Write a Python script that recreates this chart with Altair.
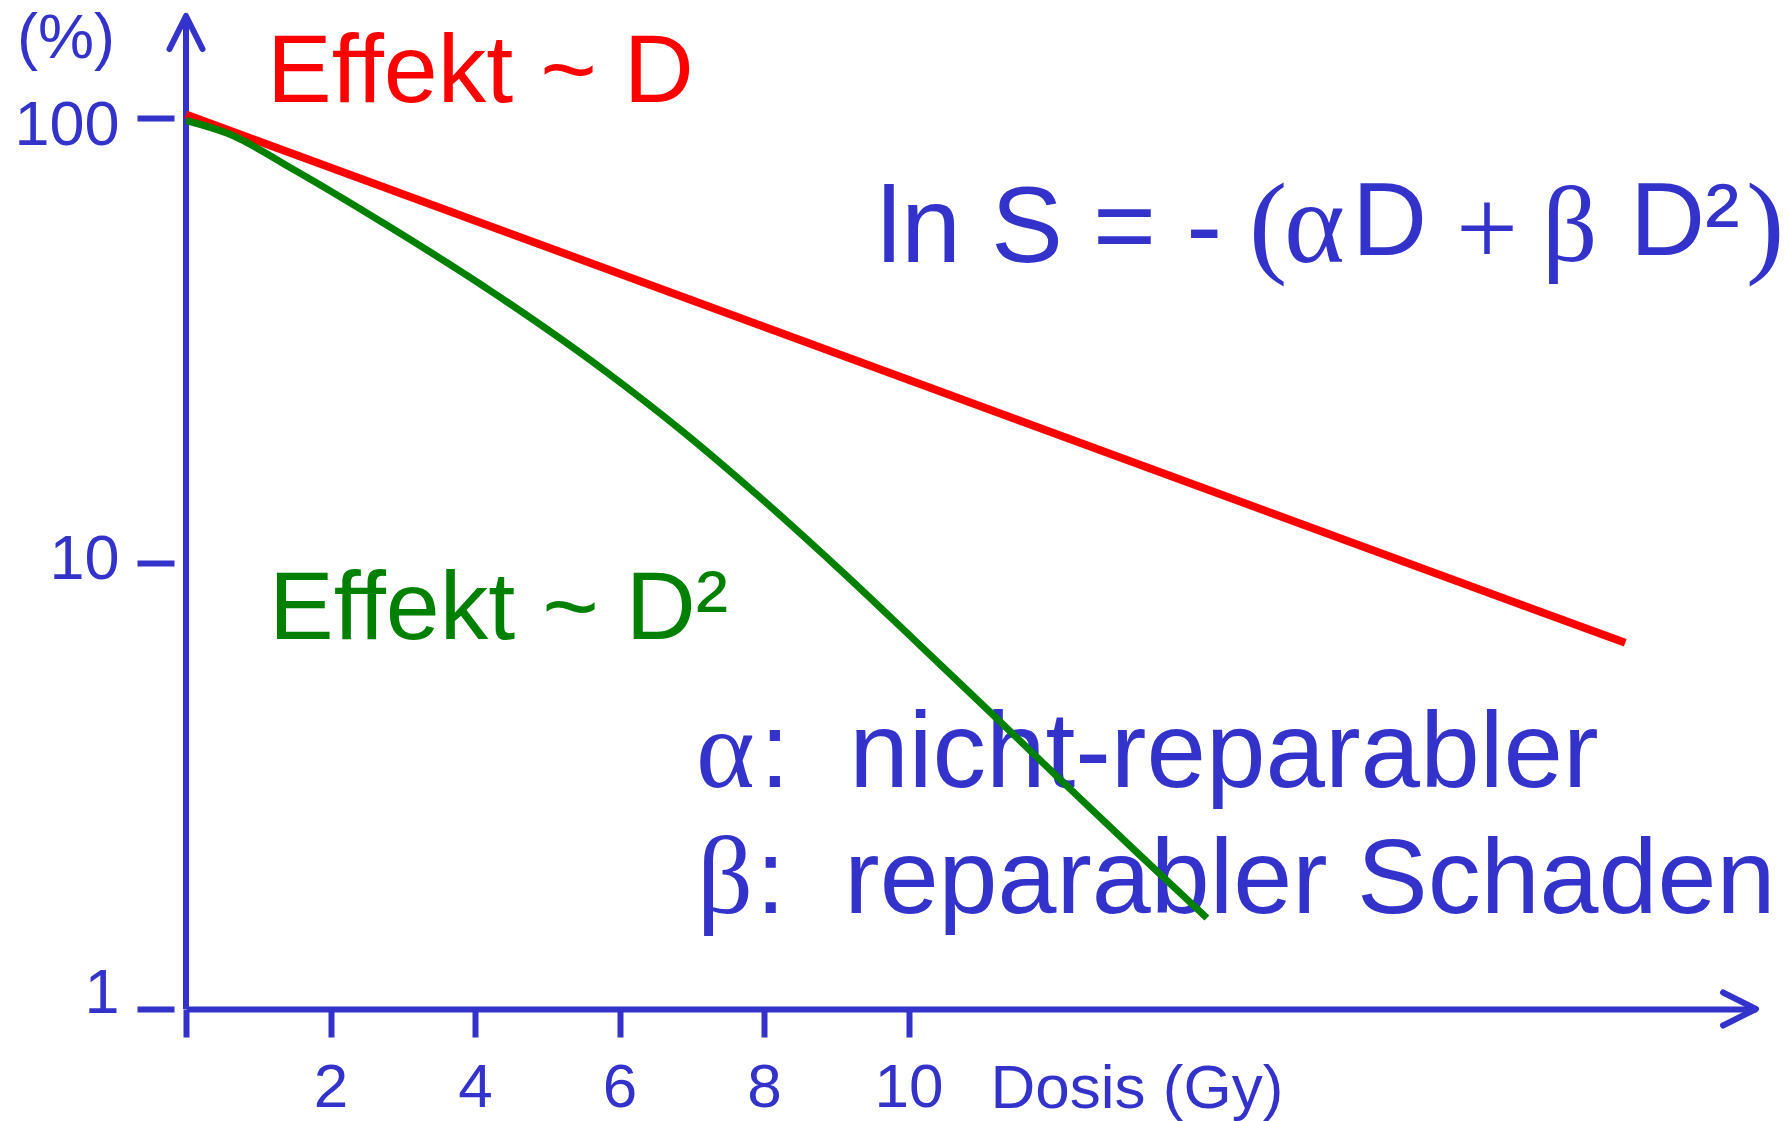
import altair as alt
import pandas as pd

# Surviving fraction S (%) against dose D (Gy), logarithmic S axis
dose_linear = [0.0, 19.92]
surv_linear = [101.6, 6.63]

dose_quadratic = [0.0, 0.58, 1.53, 2.80, 4.22, 5.80, 6.90, 7.85, 9.11,
                  10.06, 11.17, 12.11, 13.22, 14.13]
surv_quadratic = [98.5, 92.1, 75.8, 57.1, 40.8, 27.0, 19.6, 14.5, 9.48,
                  6.78, 4.57, 3.26, 2.20, 1.60]

x_ticks = [0, 2, 4, 6, 8, 10]
y_ticks = [1, 10, 100]

X_END = 21.73   # dose at the tip of the x arrow
Y_END = 169     # survival at the tip of the y arrow

BLUE = "#3333CC"
RED = "#FF0000"
GREEN = "#008000"
SANS = "Liberation Sans"
SERIF = "Liberation Serif"

W, H = 1570, 993
LEFT, TOP = 186, 16

x_scale = alt.Scale(domain=[0, X_END], nice=False, zero=False)
y_scale = alt.Scale(type="log", domain=[1, Y_END], nice=False)

x_axis = alt.Axis(
    values=x_ticks,
    labelExpr="datum.value == 0 ? '' : datum.label",
    domainColor=BLUE, domainWidth=6,
    tickColor=BLUE, tickWidth=6, tickSize=28,
    labelFont=SANS, labelFontSize=62, labelColor=BLUE, labelPadding=20,
    labelFlush=False, grid=False,
    title="Dosis (Gy)", titleFont=SANS, titleFontSize=62,
    titleFontWeight="normal", titleColor=BLUE,
    titleX=804, titleY=98, titleAlign="left", titleBaseline="alphabetic",
    titleAnchor="start",
)

y_axis = alt.Axis(
    values=y_ticks, format="d",
    domain=False, offset=12,
    tickColor=BLUE, tickWidth=6, tickSize=37,
    labelFont=SANS, labelFontSize=63, labelColor=BLUE, labelPadding=18,
    labelBaseline="middle", labelFlush=False,
    labelOffset={
        "condition": [
            {"test": "datum.value == 100", "value": 8},
            {"test": "datum.value == 10", "value": -4},
        ],
        "value": -16,
    },
    grid=False, title=None,
)

one_row = alt.Data(values=[{}])

# vertical axis line
y_line = alt.Chart(one_row).mark_rule(color=BLUE, strokeWidth=6).encode(
    x=alt.XDatum(0, scale=x_scale, axis=x_axis),
    y=alt.YDatum(Y_END, scale=y_scale, axis=y_axis),
    y2=alt.Y2Datum(1),
)

# open arrow heads at the ends of both axes
arrow_style = dict(filled=False, stroke=BLUE, strokeWidth=6, size=66 ** 2,
                   strokeCap="round", strokeJoin="round", opacity=1)
x_arrow = alt.Chart(one_row).mark_point(
    shape="M-1,-0.5L0,0L-1,0.5", **arrow_style
).encode(
    x=alt.XDatum(X_END, scale=x_scale, axis=x_axis),
    y=alt.YDatum(1, scale=y_scale, axis=y_axis),
)
y_arrow = alt.Chart(one_row).mark_point(
    shape="M-0.5,1L0,0L0.5,1", **arrow_style
).encode(
    x=alt.XDatum(0, scale=x_scale, axis=x_axis),
    y=alt.YDatum(Y_END, scale=y_scale, axis=y_axis),
)


def text_at(text, px, py, size, color, font=SANS):
    """Left-aligned text with its baseline at canvas position (px, py)."""
    return alt.Chart(one_row).mark_text(
        text=text, align="left", baseline="alphabetic",
        font=font, fontSize=size, color=color, fontWeight="normal",
    ).encode(x=alt.value(px - LEFT), y=alt.value(py - TOP))


texts = [
    text_at("(%)", 17, 58, 63, BLUE),
    text_at("Effekt ~ D", 267, 102, 97, RED),
    text_at("Effekt ~ D\u00b2", 269, 639, 97, GREEN),
    # ln S = - (alpha D + beta D^2)
    text_at("ln S = -", 877, 262, 108, BLUE),
    text_at("(", 1249, 262, 115, BLUE, SERIF),
    text_at("\u03b1", 1284, 262, 116, BLUE, SERIF),
    text_at("D", 1352, 255, 104, BLUE),
    text_at("+", 1456, 265, 110, BLUE, SERIF),
    text_at("\u03b2", 1542, 261, 109, BLUE, SERIF),
    text_at("D\u00b2", 1630, 255, 104, BLUE),
    text_at(")", 1746, 262, 115, BLUE, SERIF),
    # meaning of the two coefficients
    text_at("\u03b1", 696, 787, 112, BLUE, SERIF),
    text_at(": \u00a0nicht-reparabler", 760, 787, 107, BLUE),
    text_at("\u03b2", 697, 913, 110, BLUE, SERIF),
    text_at(": \u00a0reparabler Schaden", 756, 913, 106, BLUE),
]

linear_df = pd.DataFrame({"dose": dose_linear, "surv": surv_linear})
quadratic_df = pd.DataFrame({"dose": dose_quadratic, "surv": surv_quadratic})

linear_line = alt.Chart(linear_df).mark_line(
    color=RED, strokeWidth=8
).encode(
    x=alt.X("dose:Q", scale=x_scale, axis=x_axis),
    y=alt.Y("surv:Q", scale=y_scale, axis=y_axis),
)

quadratic_line = alt.Chart(quadratic_df).mark_line(
    color=GREEN, strokeWidth=7, interpolate="monotone"
).encode(
    x=alt.X("dose:Q", scale=x_scale, axis=x_axis),
    y=alt.Y("surv:Q", scale=y_scale, axis=y_axis),
)

chart = alt.layer(
    y_line, x_arrow, y_arrow, linear_line, *texts, quadratic_line
).properties(
    width=W,
    height=H,
    autosize=alt.AutoSizeParams(type="none"),
    padding={"left": LEFT, "top": TOP, "right": 1789 - LEFT - W,
             "bottom": 1121 - TOP - H},
    background="white",
).configure_view(stroke=None)

chart.save("out.html", embed_options={"renderer": "svg", "actions": False})
